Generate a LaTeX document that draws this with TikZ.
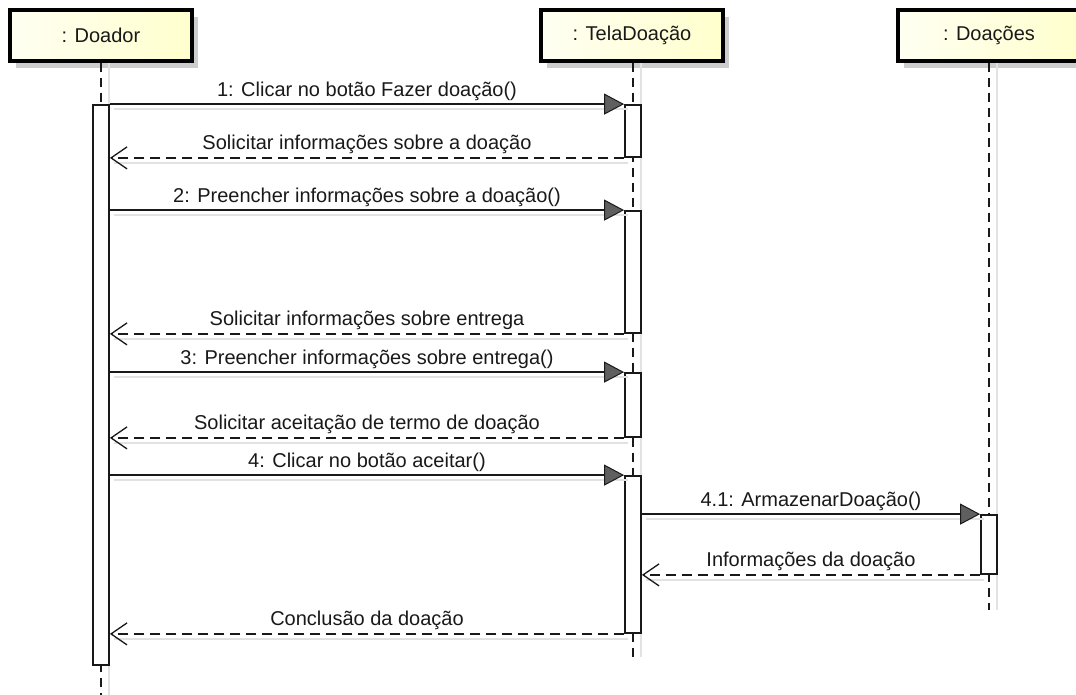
\documentclass[tikz,border=0pt]{standalone}
\usepackage{fontspec}
\setmainfont{Liberation Sans}
\usepackage{tikz}
\usetikzlibrary{
  arrows.meta,
  calc,
  shadows,
  positioning
}
\usepackage{xcolor}
\definecolor{objfillL}{RGB}{255, 255, 242}
\definecolor{objfillR}{RGB}{255, 255, 205}
\definecolor{objshade}{RGB}{205, 205, 205}
\definecolor{lineclr}{RGB}{25, 25, 25}
\definecolor{tipclr}{RGB}{95, 95, 95}
\definecolor{ghost}{RGB}{226, 226, 226}
\definecolor{txtclr}{RGB}{25, 25, 25}
\tikzset{
  % Obyektlar (sarlavha qutilari)
  objbox/.style   = {draw=black, line width=3.4pt, left color=objfillL, right color=objfillR,
                     minimum width=182pt, minimum height=51pt, inner sep=0pt,
                     drop shadow={shadow xshift=6pt, shadow yshift=-7pt, fill=objshade, opacity=1},
                     font=\fontsize{20}{22}\selectfont, text=txtclr},
  % Hayot chiziqlari
  lifeline/.style = {draw=lineclr, line width=1.8pt, dash pattern=on 9pt off 6pt,
                     preaction={draw=ghost, solid, line width=1.4pt, transform canvas={xshift=8pt}}},
  % Faollik qutilari
  actbox/.style   = {draw=lineclr, fill=white, line width=1.8pt, minimum width=16pt, inner sep=0pt},
  % Xabarlar
  syncmsg/.style  = {draw=lineclr, line width=1.8pt,
                     -{Triangle[length=20pt, width=21pt, fill=tipclr, line width=1pt]},
                     preaction={draw=ghost, -, line width=1.8pt, transform canvas={xshift=4pt, yshift=-5pt}}},
  replymsg/.style = {draw=lineclr, line width=1.8pt, dash pattern=on 10pt off 6pt,
                     -{Straight Barb[length=16pt, width=22pt, line width=1.3pt]},
                     preaction={draw=ghost, solid, -, line width=1.8pt, transform canvas={xshift=4pt, yshift=-5pt}}},
  % Etiketlar
  msglab/.style   = {font=\fontsize{20}{22}\selectfont, text=txtclr, anchor=base, yshift=8pt, inner sep=0pt},
}

\begin{document}
\begin{tikzpicture}[x=1pt, y=-1pt]
  \path[use as bounding box, clip] (0,0) rectangle (1076,695);
  \fill[white] (0,0) rectangle (1076,695);

  % Obyektlar
  \node[objbox] (doador) at (101,35.5) {: Doador};
  \node[objbox] (tela)   at (632,35.5) {: TelaDoação};
  \node[objbox] (doacoes) at (989,35.5) {: Doações};

  % Hayot chiziqlari
  \coordinate (doadorEnd)  at (101,695);
  \coordinate (telaEnd)    at (633,657);
  \coordinate (doacoesEnd) at (989,610);
  \draw[lifeline] (doador.south -| doadorEnd) -- (doadorEnd);
  \draw[lifeline] (tela.south -| telaEnd) -- (telaEnd);
  \draw[lifeline] (doacoes.south -| doacoesEnd) -- (doacoesEnd);

  % Faollik qutilari
  \node[actbox, minimum height=560pt] (a0) at (101,385) {};
  \node[actbox, minimum height=52pt]  (a1) at (633,131) {};
  \node[actbox, minimum height=122pt] (a2) at (633,272) {};
  \node[actbox, minimum height=64pt]  (a3) at (633,405) {};
  \node[actbox, minimum height=157pt] (a4) at (633,554.5) {};
  \node[actbox, minimum height=59pt]  (d1) at (989,544.5) {};

  % Xabarlar
  \draw[syncmsg] (a0.east |- a1.north) -- (a1.north west)
    node[midway, msglab] {1: Clicar no botão Fazer doação()};
  \draw[replymsg] (a1.south west) -- (a0.east |- a1.south)
    node[midway, msglab] {Solicitar informações sobre a doação};
  \draw[syncmsg] (a0.east |- a2.north) -- (a2.north west)
    node[midway, msglab] {2: Preencher informações sobre a doação()};
  \draw[replymsg] (a2.south west) -- (a0.east |- a2.south)
    node[midway, msglab] {Solicitar informações sobre entrega};
  \draw[syncmsg] (a0.east |- a3.north) -- (a3.north west)
    node[midway, msglab] {3: Preencher informações sobre entrega()};
  \draw[replymsg] (a3.south west) -- (a0.east |- a3.south)
    node[midway, msglab] {Solicitar aceitação de termo de doação};
  \draw[syncmsg] (a0.east |- a4.north) -- (a4.north west)
    node[midway, msglab] {4: Clicar no botão aceitar()};
  \draw[syncmsg] (a4.east |- d1.north) -- (d1.north west)
    node[midway, msglab] {4.1: ArmazenarDoação()};
  \draw[replymsg] (d1.south west) -- (a4.east |- d1.south)
    node[midway, msglab] {Informações da doação};
  \draw[replymsg] (a4.south west) -- (a0.east |- a4.south)
    node[midway, msglab] {Conclusão da doação};
\end{tikzpicture}
\end{document}
